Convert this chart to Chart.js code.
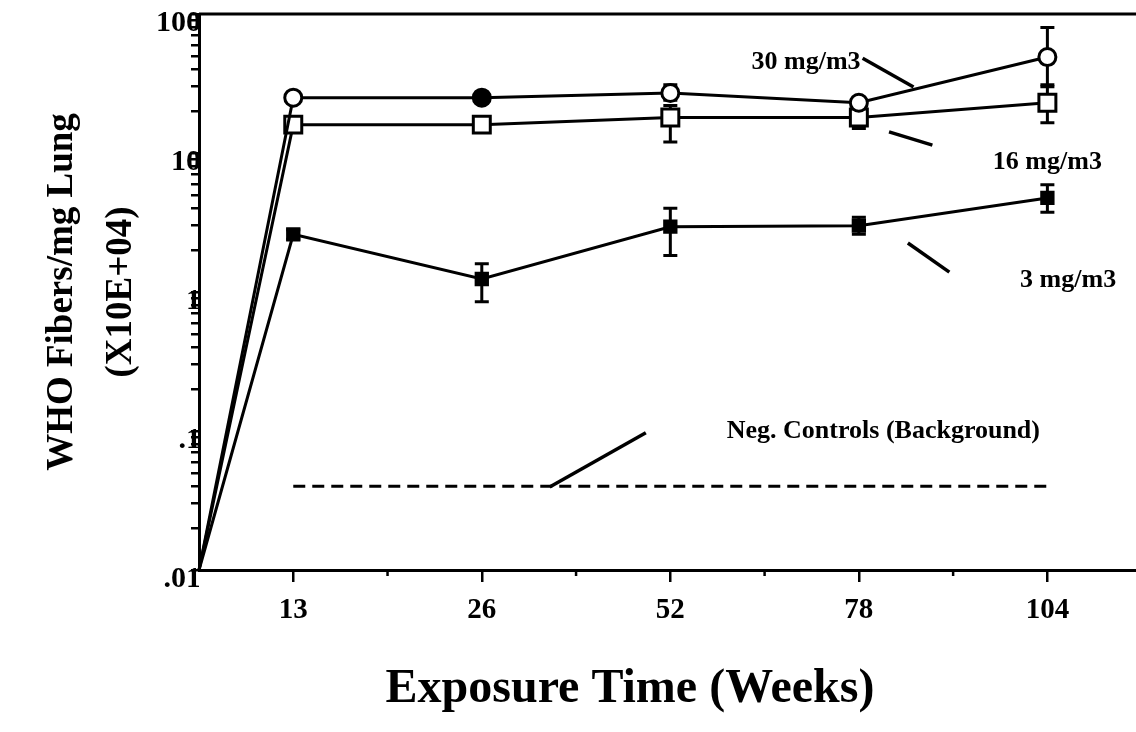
<!DOCTYPE html>
<html><head><meta charset="utf-8">
<script src="https://cdn.jsdelivr.net/npm/chart.js@4.4.1/dist/chart.umd.min.js"></script>
<style>html,body{margin:0;padding:0;background:#fff;}canvas{display:block;}</style>
</head><body>
<canvas id="c" width="1136" height="732"></canvas>
<script>
// ---------------- data ----------------
const weekLabels = ['13', '26', '52', '78', '104'];
const xIndex = [-0.5, 0, 1, 2, 3, 4];          // origin, then 13..104 weeks (category index)
const s30   = [0.01, 25, 25, 27, 23, 49];
const s30Hi = [null, null, 27, 31, 25, 80];
const s30Lo = [null, null, 23, 24, 21, 30];
const s16   = [0.01, 16, 16, 18, 18, 23];
const s16Hi = [null, 17, 17, 22, 20, 31];
const s16Lo = [null, 15, 15, 12, 15, 16.5];
const s3    = [0.01, 2.6, 1.24, 2.95, 3.0, 4.75];
const s3Hi  = [null, 2.8, 1.6, 4.0, 3.45, 5.9];
const s3Lo  = [null, 2.4, 0.85, 1.83, 2.6, 3.75];
const negControl = [0.04, 0.04];
const negX = [0, 4];
const yMajorLabels = { '-2': '.01', '-1': '.1', '0': '1', '1': '10', '2': '100' };

// ---------------- styling / annotation layout ----------------
const FONT = '"Liberation Serif", "Times New Roman", serif';
const annotations = [
  { text: '30 mg/m3', tx: 2.72, ty: 45, line: [3.02, 48, 3.29, 29.8], size: 26 },
  { text: '16 mg/m3', tx: 4.0, ty: 8.6, line: [3.16, 14.2, 3.39, 11.4], size: 26 },
  { text: '3 mg/m3', tx: 4.11, ty: 1.21, line: [3.26, 2.25, 3.48, 1.39], size: 26 },
  { text: 'Neg. Controls (Background)', tx: 3.13, ty: 0.099, line: [1.36, 0.0395, 1.87, 0.097], size: 26 }
];

const pts = (ys) => ys.map((v, i) => ({ x: xIndex[i], y: v }));

const errorBars = {
  id: 'errorBars',
  beforeDatasetsDraw(chart) {
    const ctx = chart.ctx, xs = chart.scales.x, ys = chart.scales.y;
    ctx.save();
    ctx.strokeStyle = '#000';
    ctx.lineWidth = 3;
    chart.data.datasets.forEach(ds => {
      if (!ds.errHi) return;
      ds.data.forEach((p, i) => {
        const hi = ds.errHi[i], lo = ds.errLo[i];
        if (hi == null) return;
        const px = xs.getPixelForValue(p.x);
        const yh = ys.getPixelForValue(hi), yl = ys.getPixelForValue(lo);
        ctx.beginPath();
        ctx.moveTo(px, yh); ctx.lineTo(px, yl);
        ctx.moveTo(px - 7, yh); ctx.lineTo(px + 7, yh);
        ctx.moveTo(px - 7, yl); ctx.lineTo(px + 7, yl);
        ctx.stroke();
      });
    });
    ctx.restore();
  }
};

const decor = {
  id: 'decor',
  afterDraw(chart) {
    const ctx = chart.ctx, xs = chart.scales.x, ys = chart.scales.y, a = chart.chartArea;
    ctx.save();
    ctx.strokeStyle = '#000';
    ctx.fillStyle = '#000';
    // top frame line
    ctx.lineWidth = 3;
    ctx.beginPath(); ctx.moveTo(a.left, a.top); ctx.lineTo(a.right, a.top); ctx.stroke();
    // minor x ticks
    ctx.lineWidth = 2.5;
    [0.5, 1.5, 2.5, 3.5].forEach(v => {
      const px = xs.getPixelForValue(v);
      ctx.beginPath(); ctx.moveTo(px, a.bottom); ctx.lineTo(px, a.bottom + 6); ctx.stroke();
    });
    // annotations
    annotations.forEach(an => {
      ctx.lineWidth = 3.5;
      ctx.beginPath();
      ctx.moveTo(xs.getPixelForValue(an.line[0]), ys.getPixelForValue(an.line[1]));
      ctx.lineTo(xs.getPixelForValue(an.line[2]), ys.getPixelForValue(an.line[3]));
      ctx.stroke();
      ctx.font = 'bold ' + an.size + 'px ' + FONT;
      ctx.textAlign = 'center';
      ctx.textBaseline = 'middle';
      ctx.fillText(an.text, xs.getPixelForValue(an.tx), ys.getPixelForValue(an.ty));
    });
    // x axis title
    ctx.font = 'bold 48px ' + FONT;
    ctx.textAlign = 'center';
    ctx.textBaseline = 'middle';
    ctx.fillText('Exposure Time (Weeks)', 630, 690);
    ctx.restore();
  }
};

const seriesStyle = {
  borderColor: '#000', borderWidth: 3, tension: 0, fill: false, clip: false,
  pointBorderColor: '#000', pointBorderWidth: 3
};

new Chart(document.getElementById('c'), {
  type: 'line',
  data: {
    datasets: [
      Object.assign({}, seriesStyle, {
        label: '30 mg/m3', data: pts(s30), errHi: s30Hi, errLo: s30Lo,
        pointStyle: 'circle', pointRadius: [0, 8.5, 8.5, 8.5, 8.5, 8.5],
        pointBackgroundColor: ['#fff', '#fff', '#000', '#fff', '#fff', '#fff']
      }),
      Object.assign({}, seriesStyle, {
        label: '16 mg/m3', data: pts(s16), errHi: s16Hi, errLo: s16Lo,
        pointStyle: 'rect', pointRadius: [0, 12, 12, 12, 12, 12],
        pointBackgroundColor: '#fff'
      }),
      Object.assign({}, seriesStyle, {
        label: '3 mg/m3', data: pts(s3), errHi: s3Hi, errLo: s3Lo,
        pointStyle: 'rect', pointRadius: [0, 8, 8, 8, 8, 8],
        pointBackgroundColor: '#000'
      }),
      {
        label: 'Neg. Controls (Background)',
        data: negControl.map((v, i) => ({ x: negX[i], y: v })),
        borderColor: '#000', borderWidth: 3, borderDash: [12, 7],
        pointRadius: 0, fill: false
      }
    ]
  },
  options: {
    responsive: false,
    animation: false,
    devicePixelRatio: 1,
    layout: { autoPadding: false, padding: { top: 14, right: 0, left: 0, bottom: 0 } },
    plugins: { legend: { display: false }, tooltip: { enabled: false } },
    scales: {
      x: {
        type: 'linear', min: -0.5, max: 4.47,
        afterBuildTicks: s => { s.ticks = weekLabels.map((_, i) => ({ value: i })); },
        afterFit: s => { s.height = 162; s.paddingLeft = 0; s.paddingRight = 0; },
        ticks: {
          callback: v => weekLabels[v] ?? '',
          color: '#000', padding: 11, maxRotation: 0, autoSkip: false,
          font: { family: FONT, size: 29, weight: 'bold' }
        },
        grid: { drawOnChartArea: false, drawTicks: true, tickLength: 12, lineWidth: 2.5, color: '#000' },
        border: { display: true, width: 3, color: '#000' }
      },
      y: {
        type: 'logarithmic', min: 0.01, max: 100,
        afterBuildTicks: s => {
          const t = [];
          for (let e = -2; e <= 2; e++) {
            for (let m = 1; m <= 9; m++) {
              if (e === 2 && m > 1) break;
              t.push({ value: m * Math.pow(10, e) });
            }
          }
          s.ticks = t;
        },
        afterFit: s => { s.width = 199; s.paddingTop = 0; s.paddingBottom = 0; },
        ticks: {
          callback: v => {
            const l = Math.log10(v), r = Math.round(l);
            return Math.abs(l - r) < 1e-9 ? yMajorLabels[String(r)] : '';
          },
          color: '#000', padding: -10, labelOffset: 9, autoSkip: false,
          font: { family: FONT, size: 30, weight: 'bold' }
        },
        grid: { drawOnChartArea: false, drawTicks: true, tickLength: 8, lineWidth: 2.5, color: '#000' },
        border: { display: true, width: 3, color: '#000' },
        title: {
          display: true,
          text: ['WHO Fibers/mg Lung', '(X10E+04)'],
          color: '#000',
          font: { family: FONT, size: 37, weight: 'bold', lineHeight: 1.62 },
          padding: { top: 32, bottom: 0 }
        }
      }
    }
  },
  plugins: [errorBars, decor]
});
</script>
</body></html>
